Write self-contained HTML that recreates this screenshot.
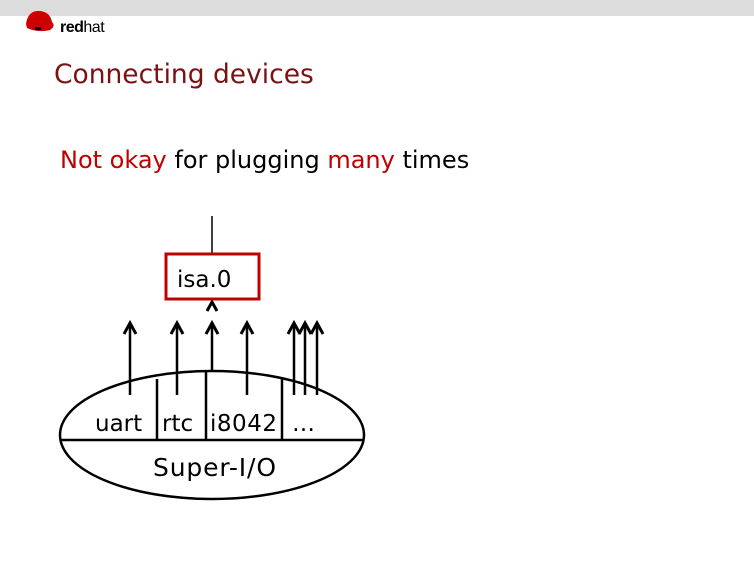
<!DOCTYPE html>
<html><head><meta charset="utf-8"><style>
body{margin:0;width:754px;height:566px;background:#fff;position:relative;overflow:hidden;font-family:"DejaVu Sans","Liberation Sans",sans-serif}
.bar{position:absolute;left:0;top:0;width:754px;height:16px;background:#dcdcdc}
.t{position:absolute;white-space:nowrap}
</style></head><body>
<div class="bar"></div>
<svg style="position:absolute;left:0;top:0" width="754" height="566">
<path d="M26 24 Q28 10 40 11 Q50 12 52 22 Q56 26 50 30 Q38 33 27 28 Z" fill="#cc0000"/>
<rect x="35" y="27" width="6" height="3" fill="#000"/>
<text x="60" y="32" font-family="Liberation Sans, sans-serif" font-size="16" font-weight="bold" fill="#000" letter-spacing="-0.5">red<tspan font-weight="normal">hat</tspan></text>
<g stroke="#000" stroke-width="2.5" fill="none">
<line x1="212" y1="216" x2="212" y2="253" stroke-width="1.5"/>
<ellipse cx="212" cy="435" rx="152" ry="64"/>
<line x1="60" y1="440" x2="364" y2="440"/>
<line x1="157" y1="379" x2="157" y2="440"/>
<line x1="206" y1="372" x2="206" y2="440"/>
<line x1="282" y1="378" x2="282" y2="440"/>
<line x1="130" y1="395" x2="130" y2="324"/>
<line x1="177" y1="395" x2="177" y2="324"/>
<line x1="212" y1="371" x2="212" y2="324"/>
<line x1="247" y1="395" x2="247" y2="324"/>
<line x1="294" y1="395" x2="294" y2="324"/>
<line x1="305" y1="395" x2="305" y2="324"/>
<line x1="317" y1="395" x2="317" y2="324"/>
<path stroke-width="3" d="M124 334 L130 323 L136 334 M171 334 L177 323 L183 334 M206 334 L212 323 L218 334 M241 334 L247 323 L253 334 M288 334 L294 323 L300 334 M299 334 L305 323 L311 334 M311 334 L317 323 L323 334 M207 311 L212 302 L217 311"/>
</g>
<rect x="166" y="254" width="93" height="45" fill="none" stroke="#c00000" stroke-width="3"/>
<g font-family="DejaVu Sans, sans-serif" font-size="23" fill="#000">
<text x="177" y="287">isa.0</text>
<text x="95" y="431">uart</text>
<text x="162" y="431">rtc</text>
<text x="210" y="431" textLength="67">i8042</text>
<text x="292" y="431">…</text>
<text x="153" y="476" font-size="25" textLength="123">Super-I/O</text>
</g>
</svg>
<div class="t" style="left:54px;top:59px;font-size:26.5px;color:#7a1214">Connecting devices</div>
<div class="t" style="left:60px;top:146px;font-size:24px;color:#000"><span style="color:#c00000">Not okay</span> for plugging <span style="color:#c00000">many</span> times</div>
</body></html>
